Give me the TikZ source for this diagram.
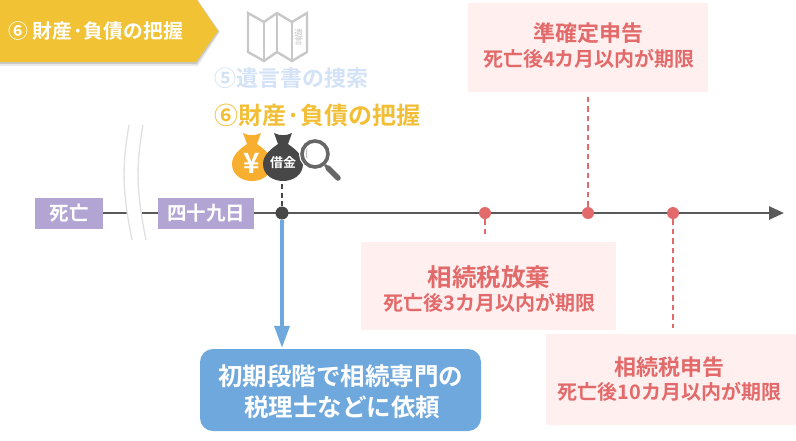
\documentclass[tikz,border=0pt]{standalone}
\usepackage{fontspec}
\setmainfont{Noto Sans CJK JP}[BoldFont={Noto Sans CJK JP Bold}]
\usetikzlibrary{arrows.meta}
\definecolor{gold}{HTML}{F0C234}
\definecolor{goldtxt}{HTML}{F2BE35}
\definecolor{paleblue}{HTML}{D3E2F7}
\definecolor{purp}{HTML}{B3A5D3}
\definecolor{linegray}{HTML}{595959}
\definecolor{dark}{HTML}{474747}
\definecolor{redd}{HTML}{E36A6A}
\definecolor{pink}{HTML}{FFEFEF}
\definecolor{blu}{HTML}{6FA8DC}
\definecolor{orangeb}{HTML}{F8AE2F}
\definecolor{mapgray}{HTML}{C8C8C8}
\tikzset{
  x=1pt,y=-1pt,
  txt/.style={inner sep=0pt,font=\bfseries},
  tagbox/.style={fill=purp,text=white,font=\bfseries\fontsize{19.5}{19.5}\selectfont,inner sep=0pt,anchor=center},
  pinkbox/.style={fill=pink,inner sep=0pt},
  redtitle/.style={txt,text=redd,font=\bfseries\fontsize{24.5}{24.5}\selectfont},
  redtitlesmall/.style={txt,text=redd,font=\bfseries\fontsize{22}{22}\selectfont},
  redsub/.style={txt,text=redd,font=\bfseries\fontsize{20}{20}\selectfont},
  evdot/.style={circle,fill=redd,inner sep=0pt,minimum size=12pt},
  reddash/.style={draw=redd,line width=1.4pt,dash pattern=on 5.5pt off 4pt},
  whitetxt/.style={txt,text=white,font=\bfseries\fontsize{24.5}{24.5}\selectfont},
  bagshape/.pic={
    \fill[pic actions] (-9,-30) .. controls (-3,-27) and (3,-27) .. (9,-30)
      -- (5,-19) .. controls (12,-14) and (20,-8) .. (20,1)
      .. controls (20,12) and (10,18) .. (0,18)
      .. controls (-10,18) and (-20,12) .. (-20,1)
      .. controls (-20,-8) and (-12,-14) .. (-5,-19) -- cycle;
  },
}
\begin{document}
\begin{tikzpicture}
\useasboundingbox (0,0) rectangle (796,440);
% header tag
\fill[black,opacity=.08] (0,0) -- (198,0) -- (220,32) -- (198,66) -- (0,66) -- cycle;
\fill[black,opacity=.15] (0,0) -- (197,0) -- (219,31.5) -- (197,64) -- (0,64) -- cycle;
\fill[gold] (0,0) -- (197,0) -- (218,31) -- (196,62) -- (0,62) -- cycle;
\node[txt,text=white,font=\bfseries\fontsize{19.8}{19.8}\selectfont,anchor=west] (head) at (8,31) {⑥ 財産·負債の把握};
% map icon
\draw[mapgray,line width=2.4pt,line join=miter] (248,13) -- (264,22) -- (277,13) -- (292,22) -- (307,13) -- (307,52) -- (292,61) -- (277,52) -- (264,61) -- (248,52) -- cycle;
\draw[mapgray,line width=2pt] (264,22) -- (264,61) (277,13) -- (277,52) (292,22) -- (292,61);
\node[txt,text=mapgray,font=\fontsize{9}{9}\selectfont,align=center] (mapt) at (298.5,37) {遺\\[-1pt]言};
% headings
\node[txt,text=paleblue,font=\bfseries\fontsize{22}{22}\selectfont,anchor=west] (h5) at (214,78) {⑤遺言書の捜索};
\node[txt,text=goldtxt,font=\bfseries\fontsize{24}{24}\selectfont,anchor=west] (h6) at (214,115) {⑥財産·負債の把握};
% timeline
\coordinate (tstart) at (103,213);
\coordinate (tend) at (784,213);
\draw[linegray,line width=2.6pt,-{Triangle[length=15pt,width=13pt]}] (tstart) -- (tend);
% wave
\fill[white] (129,125) .. controls (122,165) and (122,190) .. (132,240) -- (146,240) .. controls (136,190) and (136,165) .. (143,125) -- cycle;
\draw[black!12,line width=1.3pt] (129,125) .. controls (122,165) and (122,190) .. (132,240);
\draw[black!12,line width=1.3pt] (143,125) .. controls (136,165) and (136,190) .. (146,240);
% purple tags
\node[tagbox,minimum width=68pt,minimum height=31pt] (death) at (69,213.5) {死亡};
\node[tagbox,minimum width=96pt,minimum height=31pt] (d49) at (206,213.5) {四十九日};
% pink boxes
\node[pinkbox,minimum width=240pt,minimum height=89pt] (bkakutei) at (588,47.5) {};
\node[pinkbox,minimum width=255pt,minimum height=88pt] (bhoki) at (488.5,286) {};
\node[pinkbox,minimum width=250pt,minimum height=91pt] (bshinkoku) at (671,379.5) {};
\node[redtitlesmall] (t1) at (588,33) {準確定申告};
\node[redsub] (s1) at (589,59) {死亡後4カ月以内が期限};
\node[redtitle] (t2) at (489,277) {相続税放棄};
\node[redsub] (s2) at (489.5,303) {死亡後3カ月以内が期限};
\node[redtitlesmall] (t3) at (669,367) {相続税申告};
\node[redsub] (s3) at (669.5,392) {死亡後10カ月以内が期限};
% dots
\node[evdot] (dhoki) at (485,213) {};
\node[evdot] (dkakutei) at (588,213) {};
\node[evdot] (dshinkoku) at (673,213) {};
\draw[reddash] (dkakutei) -- (588,95);
\draw[reddash] (dhoki) -- (485,237);
\draw[reddash] (dshinkoku) -- (673,328);
% blue arrow and box
\node[rounded corners=13pt,fill=blu,minimum width=281pt,minimum height=82pt,inner sep=0pt] (req) at (340.5,390) {};
\node[whitetxt] at (340.5,376) {初期段階で相続専門の};
\node[whitetxt] at (342,407) {税理士などに依頼};
\node[circle,fill=dark,inner sep=0pt,minimum size=13pt] (dnow) at (282,213) {};
\draw[blu,line width=3.6pt,-{Triangle[length=22pt,width=15pt]},shorten >=1pt] (dnow) -- (req.north -| dnow);
% money bags
\pic[fill=orangeb] at (252,163) {bagshape};
\node[txt,text=white,font=\bfseries\fontsize{28}{28}\selectfont] (yen) at (252,163) {¥};
\pic[fill=dark] at (283,163) {bagshape};
\node[txt,text=white,font=\bfseries\fontsize{13}{13}\selectfont] (debt) at (283,163) {借金};
\draw[dark,line width=1.5pt,dash pattern=on 5pt off 3.5pt] (dnow) -- (282,183);
% magnifier
\draw[white,line width=6pt] (315,154) circle (13);
\draw[black!60,line width=3.6pt] (315,154) circle (13);
\draw[black!60,line width=2.5pt] (325,165) -- (329,169);
\draw[black!60,line width=5.5pt,line cap=round] (328,168) -- (338,178);
\draw[black!25,line width=1pt] (307,149) .. controls (306,152) and (306,155) .. (307,158);
\end{tikzpicture}
\end{document}
